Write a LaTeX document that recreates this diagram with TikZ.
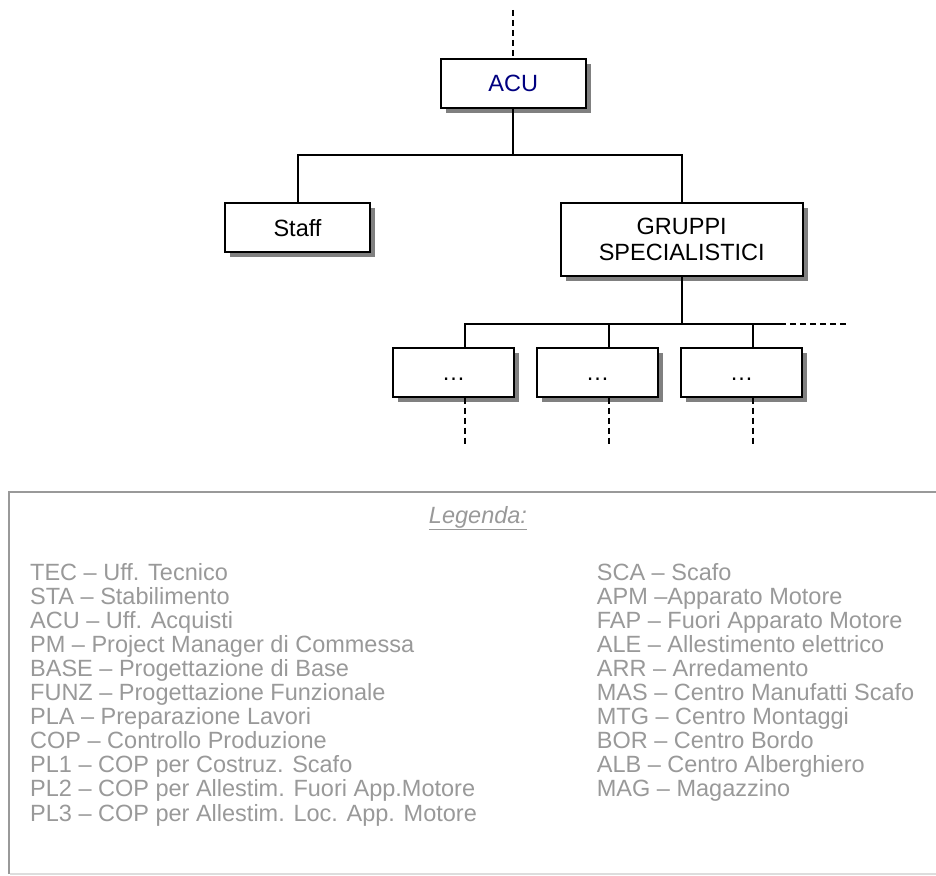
\documentclass[tikz,border=0pt]{standalone}
\usepackage{fontspec}
\setmainfont{Liberation Sans}
\usetikzlibrary{shadows}
\definecolor{acublue}{HTML}{000080}
\definecolor{legendgray}{HTML}{999999}
\definecolor{framegray}{HTML}{999999}
\definecolor{framelight}{HTML}{DDDDDD}
\definecolor{shade}{HTML}{808080}

\begin{document}
\begin{tikzpicture}[x=1pt,y=-1pt,
  box/.style={draw=black, line width=2pt, fill=white, inner sep=0pt,
    align=center, font=\fontsize{23.5}{26}\selectfont,
    drop shadow={shadow xshift=5pt, shadow yshift=-5pt, fill=shade, opacity=1}},
  link/.style={line width=2pt},
  dashlink/.style={line width=2pt, dash pattern=on 6pt off 4pt},
  legtext/.style={text=legendgray, font=\fontsize{23.5}{24}\selectfont,
    inner sep=0pt, anchor=base west}]

\useasboundingbox (0,0) rectangle (936,875);

% --- organisation chart ---
\node[box, minimum width=144.7pt, minimum height=48.4pt, text=acublue] (acu) at (513.3,83.5) {ACU};
\node[box, minimum width=145pt, minimum height=49pt] (staff) at (297.5,227.8) {Staff};
\node[box, minimum width=242pt, minimum height=72.7pt] (gruppi) at (681.7,239.7) {GRUPPI\\SPECIALISTICI};

\foreach \n/\cx in {s1/453.7, s2/597.7, s3/741.7}
  \node[box, minimum width=120.7pt, minimum height=49pt] (\n) at (\cx,372.2)
    {\vphantom{Ag}\raisebox{-3pt}{…}};

\coordinate (top) at (513.3,10);
\coordinate (bus1) at (0,155);
\coordinate (bus2) at (0,324);
\coordinate (busend) at (780,324);
\coordinate (busdash) at (846.7,324);

\draw[dashlink] (top) -- (acu.north);
\draw[link] (acu.south) -- (acu.south |- bus1) -| (staff.north);
\draw[link] (acu.south |- bus1) -| (gruppi.north);

\draw[link] (gruppi.south) -- (gruppi.south |- bus2);
\draw[link] ([xshift=11.6pt]s1.north) |- (busend);
\draw[dashlink] (busend) -- (busdash);
\foreach \n in {s2,s3}
  \draw[link] ([xshift=11.6pt]\n.north) -- ([xshift=11.6pt]\n.north |- bus2);
\foreach \n in {s1,s2,s3}{
  \coordinate (\n end) at ([xshift=11.6pt]\n.south |- 0,444);
  \draw[dashlink] ([xshift=11.6pt]\n.south) -- (\n end);
}

% --- legend frame ---
\draw[framegray, line width=2pt] (8.5,874) -- (8.5,491.5) -- (937,491.5);
\draw[framelight, line width=2pt] (9.5,874) -- (937,874);

\node[text=legendgray, font=\fontsize{23.5}{24}\selectfont\itshape, inner sep=0pt, anchor=base]
  (legenda) at (478,523.3) {\underline{Legenda:}};

\foreach \t [count=\i] in {TEC – Uff. Tecnico, STA – Stabilimento, ACU – Uff. Acquisti,
    PM – Project Manager di Commessa, BASE – Progettazione di Base,
    FUNZ – Progettazione Funzionale, PLA – Preparazione Lavori,
    COP – Controllo Produzione, PL1 – COP per Costruz. Scafo,
    PL2 – COP per Allestim. Fuori App.Motore, PL3 – COP per Allestim. Loc. App. Motore}
  \node[legtext] (L\i) at (30,{580+(\i-1)*24.1}) {\t};

\foreach \t [count=\i] in {SCA – Scafo, APM –Apparato Motore, FAP – Fuori Apparato Motore,
    ALE – Allestimento elettrico, ARR – Arredamento, MAS – Centro Manufatti Scafo,
    MTG – Centro Montaggi, BOR – Centro Bordo, ALB – Centro Alberghiero, MAG – Magazzino}
  \node[legtext] (R\i) at (596.7,{580+(\i-1)*24.1}) {\t};

\end{tikzpicture}
\end{document}
